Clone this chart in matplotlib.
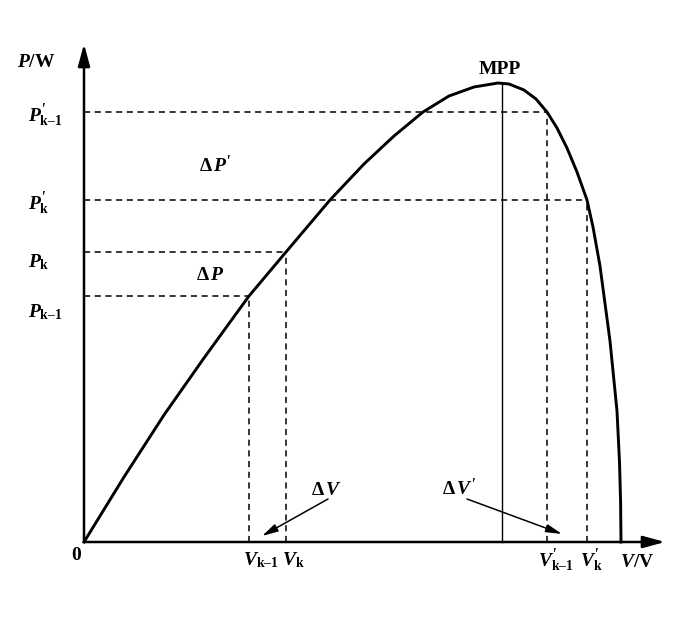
"""
P-V characteristic of a PV panel with MPP and perturbation steps (schematic).
"""

import matplotlib
matplotlib.use("Agg")
import matplotlib.pyplot as plt

plt.rcParams["mathtext.fontset"] = "custom"
plt.rcParams["mathtext.rm"] = "Liberation Serif:bold"
plt.rcParams["mathtext.it"] = "Liberation Serif:italic:bold"
plt.rcParams["mathtext.bf"] = "Liberation Serif:bold"
plt.rcParams["font.family"] = ["Liberation Serif", "DejaVu Serif"]
plt.rcParams["font.weight"] = "bold"

# curve (arbitrary units, origin at 0)
volt = [0, 40, 80, 120, 165, 202, 246, 280, 310, 339, 365, 390, 414, 425,
        440, 452, 463, 473, 483, 493, 503, 509, 516, 526, 533, 535.5, 536.6, 537]
power = [0, 65, 127, 184, 246, 290, 342, 378, 406, 430, 446, 455, 459, 458,
         452, 443, 430, 414, 394, 370, 342, 315, 276, 201, 131, 80, 40, 0]

# operating points
v_k1, p_k1 = 165, 246      # V_k-1, P_k-1
v_k, p_k = 202, 290        # V_k, P_k
v2_k1, p2_k1 = 463, 430    # V'_k-1, P'_k-1
v2_k, p2_k = 503, 342      # V'_k, P'_k
v_mpp, p_mpp = 418, 459

x_end, y_end = 581, 498    # axis arrow tips

fig = plt.figure(figsize=(7.0, 6.23), dpi=100)
ax = fig.add_axes([0, 0, 1, 1])
ax.set_xlim(-84, 616)
ax.set_ylim(-81, 542)
ax.axis("off")

# axes with arrows
arrow_kw = dict(arrowstyle="-|>,head_length=1.1,head_width=0.3", color="black",
                lw=1.8, shrinkA=0, shrinkB=0, mutation_scale=12)
ax.annotate("", xy=(x_end, 0), xytext=(0, 0), arrowprops=arrow_kw)
ax.annotate("", xy=(0, y_end), xytext=(0, 0), arrowprops=arrow_kw)

# dashed guides
dash = dict(color="black", lw=1.1, linestyle=(0, (4, 3)))
for v, p in [(v_k1, p_k1), (v_k, p_k), (v2_k1, p2_k1), (v2_k, p2_k)]:
    ax.plot([0, v], [p, p], **dash)
    ax.plot([v, v], [0, p], **dash)

# MPP vertical
ax.plot([v_mpp, v_mpp], [0, p_mpp], color="black", lw=1.0)

# P-V curve
ax.plot(volt, power, color="black", lw=2.1, solid_joinstyle="round")

fs = 14
sub1 = "k\u20131"
# axis labels
ax.text(-48, 475, "$P$/W", fontsize=fs, ha="center", va="baseline")
ax.text(536, -25, "$V$/V", fontsize=fs, ha="left", va="baseline")
ax.text(-8, -13, "0", fontsize=fs, ha="center", va="center")
ax.text(v_mpp - 2, 468, "MPP", fontsize=fs, ha="center", va="baseline")

# y labels
ax.text(-56, p2_k1 - 10, r"$P^{\prime}_{\mathrm{%s}}$" % sub1, fontsize=fs, ha="left", va="baseline")
ax.text(-56, p2_k - 10, r"$P^{\prime}_{\mathrm{k}}$", fontsize=fs, ha="left", va="baseline")
ax.text(-56, p_k - 15, r"$P_{\mathrm{k}}$", fontsize=fs, ha="left", va="baseline")
ax.text(-56, p_k1 - 21, r"$P_{\mathrm{%s}}$" % sub1, fontsize=fs, ha="left", va="baseline")

# x labels
ax.text(v_k1 - 6, -23, r"$V_{\mathrm{%s}}$" % sub1, fontsize=fs, ha="left", va="baseline")
ax.text(v_k - 4, -23, r"$V_{\mathrm{k}}$", fontsize=fs, ha="left", va="baseline")
ax.text(v2_k1 - 9, -25, r"$V^{\prime}_{\mathrm{%s}}$" % sub1, fontsize=fs, ha="left", va="baseline")
ax.text(v2_k - 7, -25, r"$V^{\prime}_{\mathrm{k}}$", fontsize=fs, ha="left", va="baseline")

# delta labels
ax.text(115, 370, r"$\Delta\,P^{\prime}$", fontsize=fs, ha="left", va="baseline")
ax.text(112, 262, r"$\Delta\,P$", fontsize=fs, ha="left", va="baseline")
ax.text(227, 47, r"$\Delta\,V$", fontsize=fs, ha="left", va="baseline")
ax.text(358, 47, r"$\Delta\,V^{\prime}$", fontsize=fs, ha="left", va="baseline")

thin = dict(arrowstyle="-|>,head_length=0.8,head_width=0.2", color="black",
            lw=1.1, shrinkA=0, shrinkB=0, mutation_scale=12)
ax.annotate("", xy=(178, 6), xytext=(244, 43), arrowprops=thin)
ax.annotate("", xy=(478, 8), xytext=(383, 43), arrowprops=thin)

fig.savefig("out.png", dpi=100)
plt.close(fig)
